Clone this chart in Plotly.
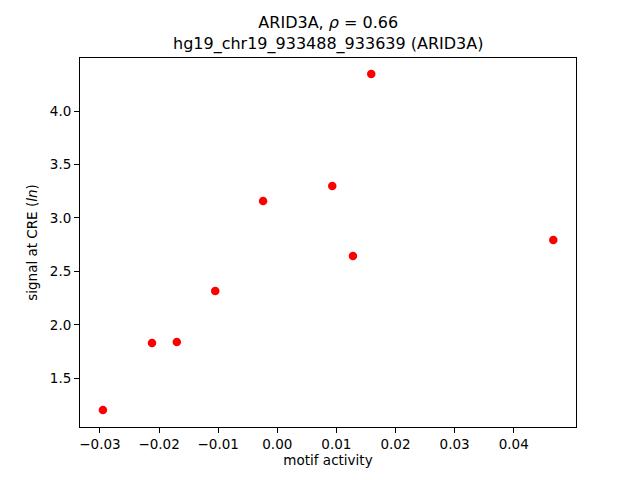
import plotly.graph_objects as go

motif_activity = [-0.0295, -0.0212, -0.0170, -0.0105, -0.0024, 0.0093, 0.0128, 0.0159, 0.0467]
signal = [1.203, 1.830, 1.839, 2.316, 3.158, 3.298, 2.644, 4.346, 2.793]

x_ticks = [-0.03, -0.02, -0.01, 0.00, 0.01, 0.02, 0.03, 0.04]
x_tick_labels = ["\u22120.03", "\u22120.02", "\u22120.01", "0.00", "0.01", "0.02", "0.03", "0.04"]
y_ticks = [1.5, 2.0, 2.5, 3.0, 3.5, 4.0]
y_tick_labels = ["1.5", "2.0", "2.5", "3.0", "3.5", "4.0"]

title_text = "ARID3A, <i>ρ</i> = 0.66<br>hg19_chr19_933488_933639 (ARID3A)"

fig = go.Figure()
fig.add_trace(go.Scatter(
    x=motif_activity, y=signal, mode="markers",
    marker=dict(color="#ff0000", size=8.5, line=dict(width=0)),
    showlegend=False,
))

font = dict(family="DejaVu Sans", size=13.5, color="black")
axis_common = dict(
    showgrid=False, zeroline=False, showline=True, linecolor="black",
    linewidth=1, mirror=True, ticks="outside", ticklen=5, tickwidth=1,
    tickcolor="black", tickfont=font, automargin=False,
)

fig.update_layout(
    width=640, height=480,
    paper_bgcolor="white", plot_bgcolor="white",
    margin=dict(l=80, r=64, t=58, b=53, autoexpand=False),
    font=font,
    xaxis=dict(
        range=[-0.03338, 0.05054], tickvals=x_ticks, ticktext=x_tick_labels,
        title=dict(text="motif activity", font=font, standoff=3),
        **axis_common,
    ),
    yaxis=dict(
        range=[1.044, 4.496], tickvals=y_ticks, ticktext=y_tick_labels,
        title=dict(text="signal at CRE (<i>ln</i>)", font=font, standoff=9),
        **axis_common,
    ),
    annotations=[dict(
        text=title_text, x=0.5, y=1, xref="paper", yref="paper",
        xanchor="center", yanchor="bottom", yshift=2, showarrow=False,
        font=dict(family="DejaVu Sans", size=16, color="black"),
    )],
)

fig.write_html("out.html", config={"displayModeBar": False},
               post_script="document.body.style.margin='0';")
